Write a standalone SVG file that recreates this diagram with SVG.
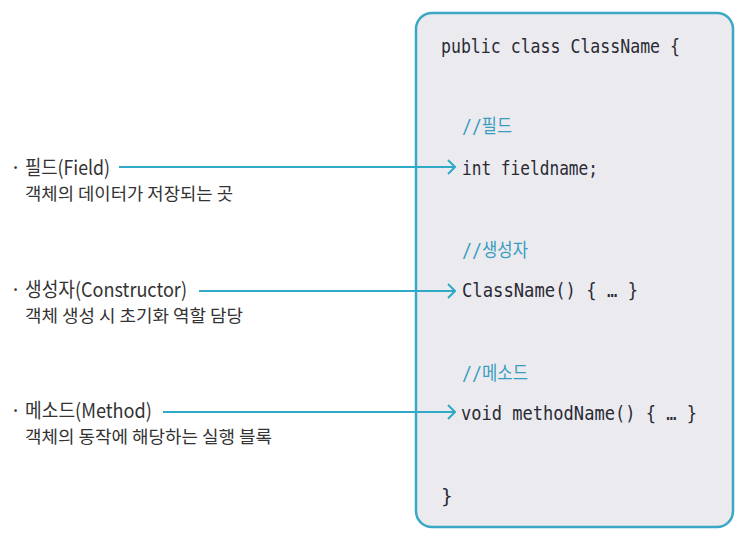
<svg xmlns="http://www.w3.org/2000/svg" width="743" height="542" viewBox="0 0 743 542">
<defs>
<style>
.lbl{font-family:"Noto Sans CJK KR","Liberation Sans",sans-serif;font-size:20px;fill:#333;}
.desc{font-family:"Noto Sans CJK KR","Liberation Sans",sans-serif;font-size:17.5px;fill:#333;}
.code{font-family:"DejaVu Sans Mono","Liberation Mono",monospace;font-size:19.5px;fill:#2a2a35;}
.cmt{font-family:"DejaVu Sans Mono","Noto Sans CJK KR",monospace;font-size:19px;fill:#3a9cc0;}
.conn{stroke:#2fa9c6;stroke-width:2;fill:none;}
</style>
<marker id="arr" viewBox="0 0 10 16" refX="9" refY="8" markerWidth="10" markerHeight="16" markerUnits="userSpaceOnUse" orient="auto">
<path d="M2,1 L9,8 L2,15" fill="none" stroke="#2fa9c6" stroke-width="2"/>
</marker>
</defs>
<rect width="743" height="542" fill="#ffffff"/>
<g id="class-box">
<rect x="416" y="13" width="317" height="514" rx="16" fill="#ebebef" stroke="#3aa8c4" stroke-width="2.5"/>
<text class="code" x="441" y="53" textLength="239" lengthAdjust="spacingAndGlyphs">public class ClassName {</text>
<text class="cmt" x="462" y="133" textLength="50" lengthAdjust="spacingAndGlyphs">//필드</text>
<text class="code" x="462" y="175" textLength="136" lengthAdjust="spacingAndGlyphs">int fieldname;</text>
<text class="cmt" x="462" y="257" textLength="66" lengthAdjust="spacingAndGlyphs">//생성자</text>
<text class="code" x="462" y="297" textLength="176" lengthAdjust="spacingAndGlyphs">ClassName() { … }</text>
<text class="cmt" x="462" y="380" textLength="66" lengthAdjust="spacingAndGlyphs">//메소드</text>
<text class="code" x="461" y="420" textLength="236" lengthAdjust="spacingAndGlyphs">void methodName() { … }</text>
<text class="code" x="441" y="503">}</text>
</g>
<g id="field">
<text class="lbl" x="10" y="175">·</text>
<text class="lbl" x="25" y="175" textLength="85" lengthAdjust="spacingAndGlyphs">필드(Field)</text>
<text class="desc" x="25" y="200" textLength="208" lengthAdjust="spacingAndGlyphs">객체의 데이터가 저장되는 곳</text>
</g>
<g id="constructor">
<text class="lbl" x="10" y="297">·</text>
<text class="lbl" x="25" y="297" textLength="162" lengthAdjust="spacingAndGlyphs">생성자(Constructor)</text>
<text class="desc" x="25" y="322" textLength="218" lengthAdjust="spacingAndGlyphs">객체 생성 시 초기화 역할 담당</text>
</g>
<g id="method">
<text class="lbl" x="10" y="418">·</text>
<text class="lbl" x="25" y="418" textLength="127" lengthAdjust="spacingAndGlyphs">메소드(Method)</text>
<text class="desc" x="25" y="443" textLength="247" lengthAdjust="spacingAndGlyphs">객체의 동작에 해당하는 실행 블록</text>
</g>
<g id="connectors">
<line class="conn" x1="119" y1="167" x2="455" y2="167" marker-end="url(#arr)"/>
<line class="conn" x1="199" y1="291" x2="455" y2="291" marker-end="url(#arr)"/>
<line class="conn" x1="163" y1="412" x2="455" y2="412" marker-end="url(#arr)"/>
</g>
</svg>
